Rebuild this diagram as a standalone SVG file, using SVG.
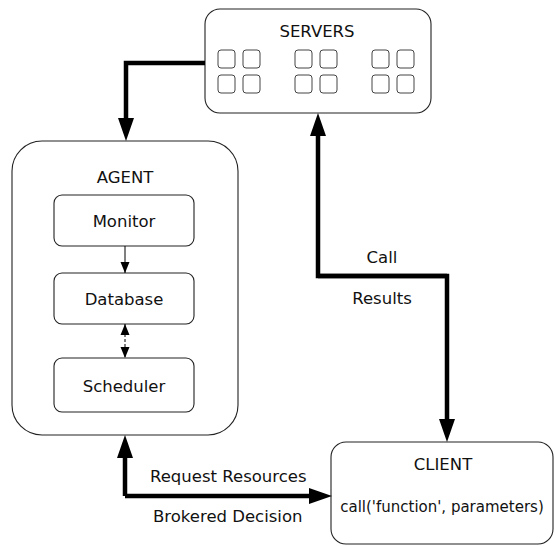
<svg xmlns="http://www.w3.org/2000/svg" width="555" height="546" viewBox="0 0 555 546">
<defs>
<style>
.box{fill:#fff;stroke:#222;stroke-width:1.1}
.sq{fill:none;stroke:#444;stroke-width:1}
.t{font-family:"DejaVu Sans","Liberation Sans",sans-serif;font-size:16.5px;fill:#111}
.thick{fill:none;stroke:#000;stroke-width:4.5;stroke-linejoin:miter}
.thin{fill:none;stroke:#000;stroke-width:1}
.dash{fill:none;stroke:#000;stroke-width:1;stroke-dasharray:3 2}
</style>
<marker id="big" markerUnits="userSpaceOnUse" markerWidth="24" markerHeight="18" viewBox="0 0 24 18" refX="1" refY="9" orient="auto">
<path d="M0,1 L23,9 L0,17 Z" fill="#000"/>
</marker>
<marker id="small" markerUnits="userSpaceOnUse" markerWidth="12" markerHeight="10" viewBox="0 0 12 10" refX="11" refY="5" orient="auto-start-reverse">
<path d="M0,0.5 L11,5 L0,9.5 Z" fill="#000"/>
</marker>
</defs>
<rect width="555" height="546" fill="#fff"/>
<g id="servers">
<rect class="box" x="205" y="9" width="226" height="104" rx="15"/>
<text class="t" x="317" y="37" text-anchor="middle">SERVERS</text>
<g class="sq">
<rect x="218" y="50" width="17" height="18" rx="3"/><rect x="243" y="50" width="17" height="18" rx="3"/>
<rect x="218" y="75" width="17" height="18" rx="3"/><rect x="243" y="75" width="17" height="18" rx="3"/>
<rect x="295" y="50" width="17" height="18" rx="3"/><rect x="320" y="50" width="17" height="18" rx="3"/>
<rect x="295" y="75" width="17" height="18" rx="3"/><rect x="320" y="75" width="17" height="18" rx="3"/>
<rect x="372" y="50" width="17" height="18" rx="3"/><rect x="397" y="50" width="17" height="18" rx="3"/>
<rect x="372" y="75" width="17" height="18" rx="3"/><rect x="397" y="75" width="17" height="18" rx="3"/>
</g>
</g>
<g id="agent">
<rect class="box" x="12" y="141" width="226" height="294" rx="30"/>
<text class="t" x="125" y="183" text-anchor="middle">AGENT</text>
</g>
<g id="monitor">
<rect class="box" x="54" y="195" width="140" height="51" rx="8"/>
<text class="t" x="124" y="227" text-anchor="middle">Monitor</text>
</g>
<g id="database">
<rect class="box" x="54" y="273" width="140" height="51" rx="8"/>
<text class="t" x="124" y="305" text-anchor="middle">Database</text>
</g>
<g id="scheduler">
<rect class="box" x="54" y="358" width="140" height="54" rx="8"/>
<text class="t" x="124" y="392" text-anchor="middle">Scheduler</text>
</g>
<g id="client">
<rect class="box" x="331" y="442" width="222" height="102" rx="15"/>
<text class="t" x="443" y="470" text-anchor="middle">CLIENT</text>
<text class="t" x="442" y="512" text-anchor="middle" style="font-size:15px">call('function', parameters)</text>
</g>
<g id="connectors">
<path class="thick" d="M205,63 H126 V119" marker-end="url(#big)"/>
<path class="thick" d="M447,276 H318 V135" marker-end="url(#big)"/>
<path class="thick" d="M318,276 H447 V420" marker-end="url(#big)"/>
<path class="thick" d="M125,496 H310" marker-end="url(#big)"/>
<path class="thick" d="M125,496 V457" marker-end="url(#big)"/>
<path class="thin" d="M125,246 V273" marker-end="url(#small)"/>
<path class="dash" d="M125,324 V358" marker-start="url(#small)" marker-end="url(#small)"/>
<text class="t" x="382" y="263" text-anchor="middle">Call</text>
<text class="t" x="382" y="304" text-anchor="middle">Results</text>
<text class="t" x="150" y="482">Request Resources</text>
<text class="t" x="153" y="522">Brokered Decision</text>
</g>
</svg>
